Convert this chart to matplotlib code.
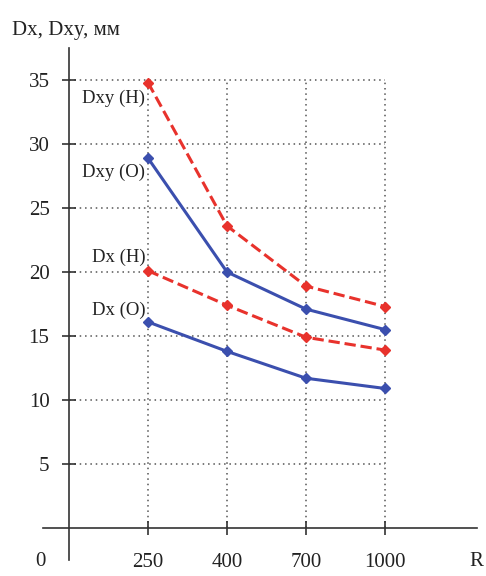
import matplotlib
matplotlib.use("Agg")
import matplotlib.pyplot as plt

# radius categories and deviations, mm
radius = ["250", "400", "700", "1000"]
dxy_h = [34.8, 23.6, 18.9, 17.3]
dxy_o = [28.9, 20.0, 17.1, 15.5]
dx_h = [20.1, 17.4, 14.9, 13.9]
dx_o = [16.1, 13.8, 11.7, 10.9]
yticks = [5, 10, 15, 20, 25, 30, 35]

blue = "#3b4fae"
red = "#e8322c"

plt.rcParams["font.family"] = ["Liberation Serif", "DejaVu Serif"]

fig = plt.figure(figsize=(4.86, 5.76), dpi=100)
ax = fig.add_axes([0, 0, 1, 1])
ax.set_xlim(-0.873, 5.278)
ax.set_ylim(-3.75, 41.25)

xs = list(range(1, len(radius) + 1))

# dotted grid limited to the data area
for y in yticks:
  ax.plot([0, xs[-1]], [y, y], color="#555555", lw=1.1, ls=(0, (1, 2.5)), zorder=1)
for x in xs:
  ax.plot([x, x], [0, yticks[-1]], color="#555555", lw=1.1, ls=(0, (1, 2.5)), zorder=1)

series = [
  (dxy_h, red, "--", "Dxy (Н)", -16),
  (dxy_o, blue, "-", "Dxy (О)", -14),
  (dx_h, red, "--", "Dx (Н)", 13),
  (dx_o, blue, "-", "Dx (О)", 12),
]
for vals, col, ls, lab, dy in series:
  ax.plot(xs, vals, color=col, ls=ls, lw=2.2, marker="D", ms=5.5, zorder=3)
  ax.annotate(lab, (xs[0], vals[0]), xytext=(-2, dy * 0.72), textcoords="offset points",
              ha="right", va="center", fontsize=13.5, color="#222222")

# axes crossing at zero
for s in ["top", "right"]:
  ax.spines[s].set_visible(False)
ax.spines["left"].set_position(("data", 0))
ax.spines["bottom"].set_position(("data", 0))
ax.spines["left"].set_bounds(-2.5, 37.5)
ax.spines["bottom"].set_bounds(-0.33, 5.16)
for s in ["left", "bottom"]:
  ax.spines[s].set_linewidth(1.2)
  ax.spines[s].set_color("#333333")

ax.set_xticks(xs)
ax.set_xticklabels(radius)
ax.set_yticks(yticks)
ax.tick_params(axis="both", direction="inout", length=10, width=1.2, color="#333333",
               labelsize=15, labelcolor="#222222")
ax.tick_params(axis="x", pad=13)
ax.tick_params(axis="y", pad=9)

fig.text(12 / 486, 1 - 30 / 576, "Dx, Dxy, мм", fontsize=15, va="center", ha="left", color="#222222")
fig.text(40 / 486, 1 - 562 / 576, "0", fontsize=15, va="center", ha="center", color="#222222")
fig.text(476 / 486, 1 - 562 / 576, "R", fontsize=15, va="center", ha="center", color="#222222")

fig.savefig("out.png", dpi=100)
